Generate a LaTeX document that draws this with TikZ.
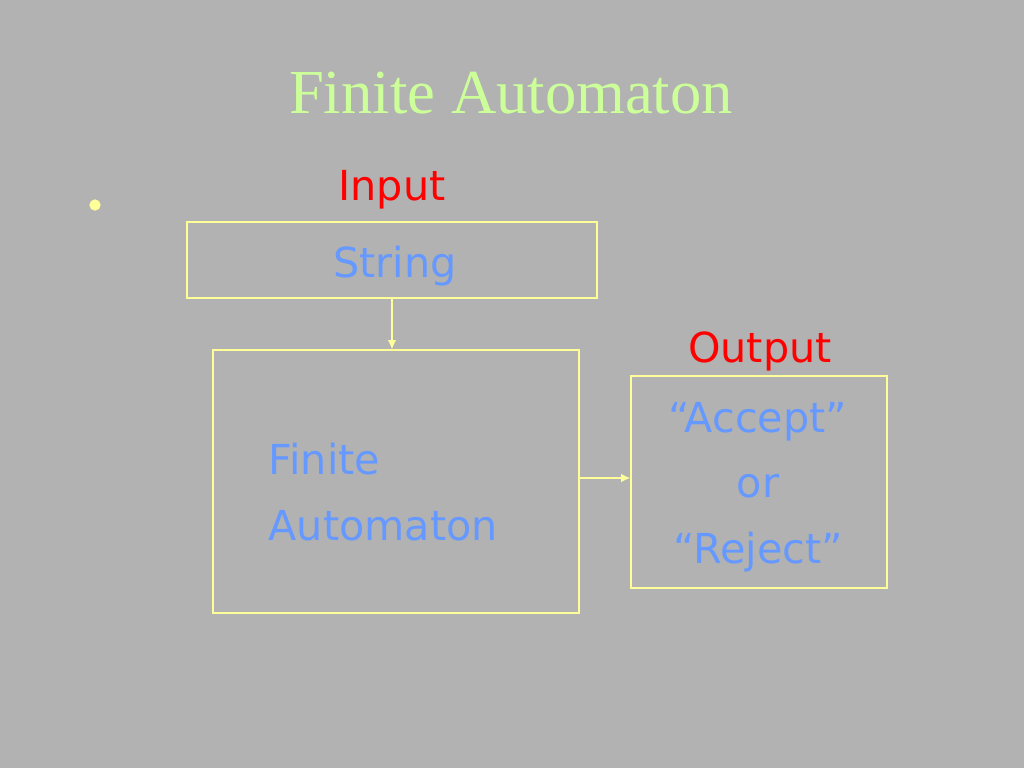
\documentclass[tikz,border=0pt]{standalone}
\usepackage{fontspec}
\setmainfont{Liberation Serif}
\newfontfamily\handfont{DejaVu Sans}
\usetikzlibrary{positioning}
\usetikzlibrary{arrows.meta}
\definecolor{slidegray}{HTML}{B2B2B2}
\definecolor{titlegreen}{HTML}{CCFF99}
\definecolor{boxyellow}{HTML}{FFFF99}
\definecolor{textblue}{HTML}{6699FF}
\definecolor{labelred}{HTML}{FF0000}

\begin{document}
\begin{tikzpicture}[x=0.75pt,y=-0.75pt,
		box/.style = {draw = boxyellow, line width = 1pt, rectangle, inner sep = 0pt},
		blue text/.style = {text = textblue, font = \handfont\fontsize{31}{49}\selectfont},
		red text/.style = {text = labelred, font = \handfont\fontsize{31}{37}\selectfont},
		flow/.style = {draw = boxyellow, line width = 1pt, -{Latex[length=7pt,width=6.5pt]}}]
		% slide background
		\fill[slidegray] (0,0) rectangle (1024,768);
		\useasboundingbox (0,0) rectangle (1024,768);
		\node[text = titlegreen, font = \fontsize{47}{56}\selectfont] at (511,93) (title) {Finite Automaton};
		\node[fill = boxyellow, circle, inner sep = 0pt, minimum size = 8.5pt] at (95,205) (bullet) {};
		% boxes
		\node[box, minimum width = 307.5pt, minimum height = 57pt] at (392,260) (string) {};
		\node[box, minimum width = 274.5pt, minimum height = 197.25pt] at (396,481.5) (fa) {};
		\node[box, minimum width = 192pt, minimum height = 159pt] at (759,482) (result) {};
		\node[blue text] at (395,266) (stringtext) {String};
		\node[blue text, align = center] at (758,487) (resulttext) {“Accept”\\or\\“Reject”};
		\node[blue text, align = left, anchor = west] at (264,492) (fatext) {Finite\\Automaton};
		% labels
		\node[red text, above = 6pt of string] (input) {Input};
		\node[red text] at (760,351) (output) {Output};
		% connectors
		\draw[flow] (string.south -| 392,0) -- (fa.north -| 392,0);
		\draw[flow] (fa.east |- 0,478) -- (result.west |- 0,478);
	\end{tikzpicture}
\end{document}
